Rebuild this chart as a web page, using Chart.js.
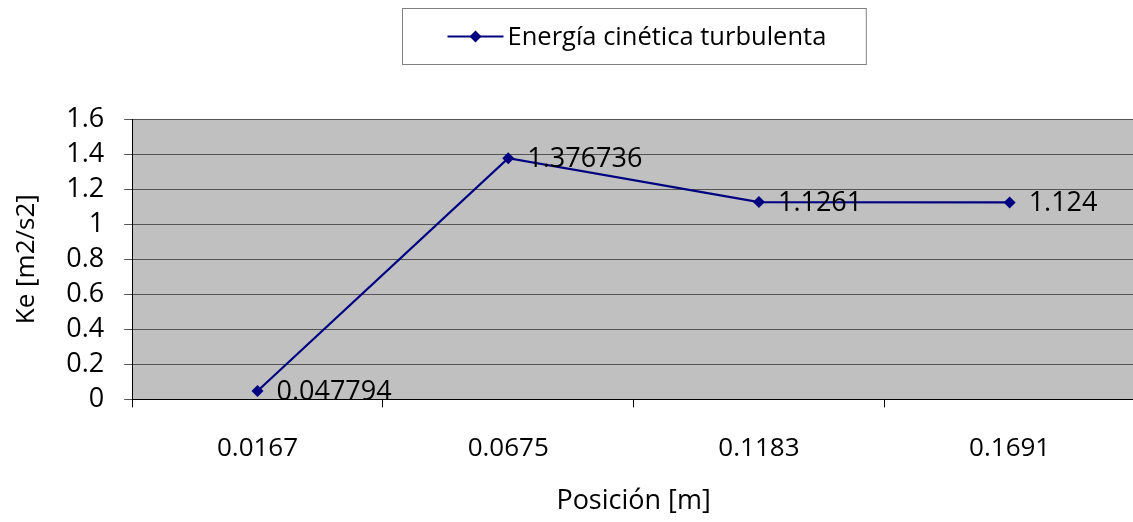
<!DOCTYPE html>
<html>
<head>
<meta charset="utf-8">
<script src="https://cdn.jsdelivr.net/npm/chart.js@4.4.0/dist/chart.umd.min.js"></script>
<style>
  html,body{margin:0;padding:0;background:#fff;overflow:hidden;}
  #wrap{width:1141px;height:522px;}
</style>
</head>
<body>
<div id="wrap"><canvas id="c" width="1141" height="522"></canvas></div>
<script>
// data
const categories = ['0.0167', '0.0675', '0.1183', '0.1691'];
const keValues = [0.047794, 1.376736, 1.1261, 1.124];
const pointLabels = ['0.047794', '1.376736', '1.1261', '1.124'];
const seriesName = 'Energía cinética turbulenta';
const yTitle = 'Ke [m2/s2]';
const xTitle = 'Posición [m]';

const FONT = '"Open Sans", "DejaVu Sans", sans-serif';
const NAVY = '#000080';

// grey plot background
const plotBg = {
  id: 'plotBg',
  beforeDraw(chart){
    const a = chart.chartArea, ctx = chart.ctx;
    ctx.save();
    ctx.fillStyle = '#C0C0C0';
    ctx.fillRect(a.left, a.top, a.right - a.left, a.bottom - a.top);
    ctx.restore();
  }
};

// value labels right of each point
const valueLabels = {
  id: 'valueLabels',
  afterDatasetsDraw(chart){
    const ctx = chart.ctx;
    const meta = chart.getDatasetMeta(0);
    ctx.save();
    ctx.font = '27px ' + FONT;
    ctx.fillStyle = '#000';
    ctx.textAlign = 'left';
    ctx.textBaseline = 'middle';
    meta.data.forEach((p, i) => {
      ctx.fillText(pointLabels[i], p.x + 19, p.y + 1);
    });
    ctx.restore();
  }
};

// boxed legend centred over the plot area
const boxLegend = {
  id: 'boxLegend',
  afterDraw(chart){
    const ctx = chart.ctx, a = chart.chartArea;
    ctx.save();
    ctx.font = '25.5px ' + FONT;
    const tw = ctx.measureText(seriesName).width;
    const sw = 56, gap = 4, padL = 45, padR = 40;
    const w = padL + sw + gap + tw + padR;
    const h = 56;
    const cx = (a.left + a.right) / 2;
    const x = Math.round(cx - w / 2) + 0.5, y = 8.5;
    ctx.strokeStyle = '#808080';
    ctx.lineWidth = 1;
    ctx.strokeRect(x, y, w, h);
    const my = y + h / 2;
    const sx = x + padL;
    ctx.strokeStyle = NAVY;
    ctx.lineWidth = 2;
    ctx.beginPath();
    ctx.moveTo(sx, my); ctx.lineTo(sx + sw, my);
    ctx.stroke();
    ctx.fillStyle = NAVY;
    const dx = sx + sw / 2;
    ctx.beginPath();
    ctx.moveTo(dx, my - 6); ctx.lineTo(dx + 6, my); ctx.lineTo(dx, my + 6); ctx.lineTo(dx - 6, my);
    ctx.closePath(); ctx.fill();
    ctx.fillStyle = '#000';
    ctx.textBaseline = 'middle';
    ctx.fillText(seriesName, sx + sw + gap, my + 1);
    ctx.restore();
  }
};

new Chart(document.getElementById('c'), {
  type: 'line',
  data: {
    labels: categories,
    datasets: [{
      label: seriesName,
      data: keValues,
      borderColor: NAVY,
      backgroundColor: NAVY,
      borderWidth: 2.2,
      pointStyle: 'rectRot',
      pointRadius: 6,
      pointBorderWidth: 0,
      tension: 0
    }]
  },
  options: {
    responsive: false,
    animation: false,
    devicePixelRatio: 1,
    layout: { padding: { top: 119, right: 2, left: 11, bottom: 4 } },
    plugins: { legend: { display: false }, tooltip: { enabled: false } },
    scales: {
      x: {
        offset: true,
        grid: { offset: true, drawOnChartArea: false, color: '#000', tickLength: 8 },
        border: { color: '#000', width: 1 },
        ticks: { color: '#000', font: { family: FONT, size: 26 }, padding: 26, maxRotation: 0 },
        title: { display: true, text: xTitle, color: '#000', font: { family: FONT, size: 27 }, padding: { top: -5, bottom: 0 } }
      },
      y: {
        min: 0, max: 1.6,
        ticks: { stepSize: 0.2, autoSkip: false, color: '#000', font: { family: FONT, size: 27 }, padding: 20,
          callback: v => String(Math.round(v * 10) / 10) },
        grid: { color: '#555', tickLength: 8 },
        border: { color: '#000', width: 1 },
        title: { display: true, text: yTitle, color: '#000', font: { family: FONT, size: 26 }, padding: { top: 0, bottom: 4 } }
      }
    }
  },
  plugins: [plotBg, valueLabels, boxLegend]
});
</script>
</body>
</html>
